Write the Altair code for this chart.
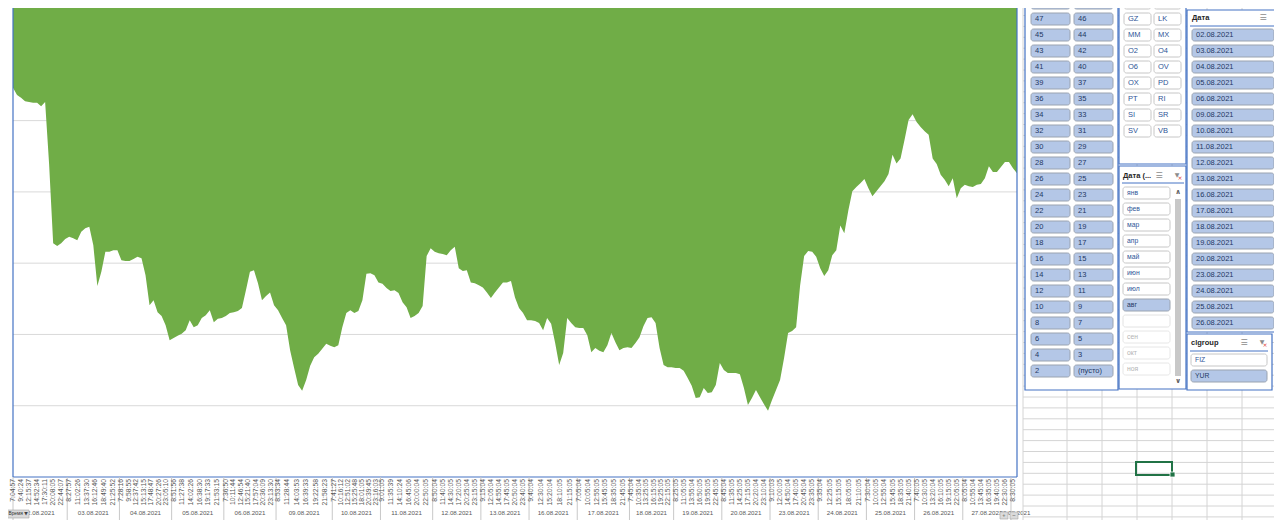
import altair as alt
import pandas as pd

FONT = "Liberation Sans"

# ---------------- data ----------------
day_labels = ["02.08.2021", "03.08.2021", "04.08.2021", "05.08.2021", "06.08.2021",
              "09.08.2021", "10.08.2021", "11.08.2021", "12.08.2021", "13.08.2021",
              "16.08.2021", "17.08.2021", "18.08.2021", "19.08.2021", "20.08.2021",
              "23.08.2021", "24.08.2021", "25.08.2021", "26.08.2021", "27.08.2021",
              "30.08.2021"]
day_points = [14, 13, 13, 13, 13, 14, 12, 13, 12, 12, 12, 13, 11, 12, 12, 12, 12, 12, 12, 12, 2]
time_labels = [
    ["7:04:57", "9:40:24", "12:15:37", "14:52:34", "17:30:11", "20:08:05", "22:44:07"],
    ["8:27:57", "11:02:26", "13:37:30", "16:12:46", "18:49:40", "21:25:52"],
    ["7:28:16", "9:58:55", "12:37:42", "15:13:15", "17:48:47", "20:27:26", "23:05:10"],
    ["8:51:56", "11:27:38", "14:02:26", "16:38:30", "19:17:33", "21:53:15"],
    ["7:36:50", "10:11:44", "12:46:54", "15:21:40", "17:57:04", "20:36:09", "23:13:30"],
    ["8:53:34", "11:28:44", "14:03:53", "16:39:33", "19:22:58", "21:58:23"],
    ["7:41:27", "10:16:12", "12:51:02", "15:25:48", "18:01:05", "20:39:45", "23:16:03"],
    ["9:01:05", "11:35:39", "14:10:24", "16:45:06", "20:00:04", "22:50:05"],
    ["8:50:04", "11:40:05", "14:30:05", "17:20:05", "20:25:04", "23:15:05"],
    ["9:15:04", "12:05:04", "14:55:04", "17:45:05", "20:50:04", "23:40:05"],
    ["9:40:04", "12:30:04", "15:20:04", "18:10:05", "21:15:05"],
    ["7:05:04", "10:05:04", "12:55:05", "15:45:05", "18:35:05", "21:45:05"],
    ["7:45:04", "10:35:04", "13:25:05", "16:15:05", "19:25:05", "22:15:05"],
    ["8:25:05", "11:05:05", "13:55:04", "16:50:05", "19:55:05", "22:45:05"],
    ["8:45:04", "11:35:05", "14:25:05", "17:15:05", "20:20:04", "23:10:04"],
    ["9:10:03", "12:00:05", "14:50:04", "17:40:05", "20:45:04", "23:35:05"],
    ["9:35:04", "12:25:05", "15:15:05", "18:05:05", "21:10:05"],
    ["7:30:04", "10:00:05", "12:55:04", "15:45:05", "18:35:05", "21:40:05"],
    ["7:40:05", "10:30:05", "13:20:04", "16:10:05", "19:15:05", "22:05:05"],
    ["8:05:04", "10:55:04", "13:45:04", "16:35:05", "19:40:05", "22:30:06"],
    ["8:30:05"],
]
values = [
    546, 536, 532, 527, 526, 525, 525, 520, 526, 438,
    328, 324, 328, 334, 337, 335, 332, 344, 349, 351,
    325, 268, 288, 316, 316, 318, 318, 304, 303, 303,
    306, 309, 307, 283, 241, 248, 231, 226, 213, 192,
    195, 198, 201, 206, 220, 210, 213, 223, 227, 234,
    217, 222, 223, 226, 230, 231, 233, 237, 262, 288,
    290, 272, 248, 254, 259, 241, 234, 223, 213, 178,
    153, 129, 121, 136, 156, 168, 173, 180, 187, 184,
    182, 185, 210, 230, 234, 230, 233, 248, 285, 286,
    283, 273, 271, 265, 261, 262, 258, 245, 238, 223,
    226, 230, 240, 310, 321, 316, 314, 313, 311, 318,
    323, 293, 289, 290, 273, 272, 269, 266, 259, 251,
    259, 266, 273, 273, 275, 252, 237, 230, 220, 220,
    219, 216, 206, 223, 215, 188, 157, 174, 223, 216,
    210, 209, 209, 199, 175, 181, 177, 175, 185, 202,
    189, 178, 181, 182, 181, 188, 196, 212, 223, 224,
    216, 181, 157, 154, 154, 153, 153, 149, 139, 128,
    111, 112, 125, 118, 119, 129, 160, 150, 146, 146,
    146, 144, 125, 101, 111, 122, 112, 102, 93, 108,
    122, 136, 167, 202, 205, 210, 269, 310, 317, 316,
    309, 293, 282, 290, 311, 318, 353, 342, 374, 401,
    407, 412, 418, 405, 394, 401, 408, 415, 425, 452,
    440, 447, 473, 501, 509, 498, 491, 485, 480, 447,
    439, 424, 417, 408, 419, 391, 405, 410, 408, 407,
    410, 411, 419, 436, 428, 428, 435, 442, 442, 433,
    426,
]
y_ticks = [100, 200, 300, 400, 500, 600]
y_top = 658

num_slicer = [["49", "48"], ["47", "46"], ["45", "44"], ["43", "42"], ["41", "40"],
              ["39", "37"], ["36", "35"], ["34", "33"], ["32", "31"], ["30", "29"],
              ["28", "27"], ["26", "25"], ["24", "23"], ["22", "21"], ["20", "19"],
              ["18", "17"], ["16", "15"], ["14", "13"], ["12", "11"], ["10", "9"],
              ["8", "7"], ["6", "5"], ["4", "3"], ["2", "(пусто)"]]
code_slicer = [["EU", "GD"], ["GZ", "LK"], ["MM", "MX"], ["O2", "O4"], ["O6", "OV"],
               ["OX", "PD"], ["PT", "RI"], ["SI", "SR"], ["SV", "VB"]]
month_items = ["янв", "фев", "мар", "апр", "май", "июн", "июл", "авг", "", "сен", "окт", "ноя"]
month_states = ["on", "on", "on", "on", "on", "on", "on", "sel", "blank", "off", "off", "off"]
date_items = ["02.08.2021", "03.08.2021", "04.08.2021", "05.08.2021", "06.08.2021",
              "09.08.2021", "10.08.2021", "11.08.2021", "12.08.2021", "13.08.2021",
              "16.08.2021", "17.08.2021", "18.08.2021", "19.08.2021", "20.08.2021",
              "23.08.2021", "24.08.2021", "25.08.2021", "26.08.2021"]
group_items = ["FIZ", "YUR"]
group_states = ["on", "sel"]
slicer_titles = ["Дата (...", "Дата", "clgroup"]
field_button = "Время"

# ---------------- layout / scales ----------------
W, H = 1266, 512
PLOT_L, PLOT_R, PLOT_B = 5, 1009, 469
X = alt.Scale(domain=[0, len(values) - 1], range=[PLOT_L, PLOT_R], nice=False, zero=False)
Y = alt.Scale(domain=[0, y_top], range=[PLOT_B, 0], nice=False, zero=False)
PX = alt.Scale(domain=[8, 8 + W], range=[0, W], nice=False, zero=False)
PY = alt.Scale(domain=[8, 8 + H], range=[0, H], nice=False, zero=False)

GREEN = "#70AD47"
BLUE = "#4472C4"

series = pd.DataFrame({"i": list(range(len(values))), "v": values})

starts = []
s = 0
for n in day_points:
    starts.append(s)
    s += n

tl_rows, dl_rows, sep_rows = [], [], []
for d, (lab, st, n, tls) in enumerate(zip(day_labels, starts, day_points, time_labels)):
    for j, t in enumerate(tls):
        tl_rows.append({"pos": st + j * n / len(tls), "t": t})
    dl_rows.append({"pos": st + (n - 1) / 2, "t": lab})
    sep_rows.append({"pos": max(st - 0.5, 0)})
tl_df = pd.DataFrame(tl_rows)
dl_df = pd.DataFrame(dl_rows)
sep_df = pd.DataFrame(sep_rows)

layers = []

# gridlines
layers.append(alt.Chart(pd.DataFrame({"t": y_ticks})).mark_rule(color="#D9D9D9", strokeWidth=1).encode(
    y=alt.Y("t:Q", scale=Y, axis=None), x=alt.value(PLOT_L), x2=alt.value(PLOT_R)))
# area filled from the series up to the top of the value axis
layers.append(alt.Chart(series).mark_area(color=GREEN, opacity=1).encode(
    x=alt.X("i:Q", scale=X, axis=None), y=alt.Y("v:Q", scale=Y, axis=None), y2=alt.datum(y_top)))
# plot border (left/right verticals and bottom)
layers.append(alt.Chart(pd.DataFrame({"i": [0, len(values) - 1]})).mark_rule(color=BLUE, strokeWidth=1.2).encode(
    x=alt.X("i:Q", scale=X, axis=None), y=alt.value(0), y2=alt.value(PLOT_B)))
layers.append(alt.Chart(pd.DataFrame({"v": [0]})).mark_rule(color=BLUE, strokeWidth=1.2).encode(
    y=alt.Y("v:Q", scale=Y, axis=None), x=alt.value(PLOT_L), x2=alt.value(PLOT_R)))
# day separators
layers.append(alt.Chart(sep_df).mark_rule(color="#C8C8C8", strokeWidth=1).encode(
    x=alt.X("pos:Q", scale=X, axis=None), y=alt.value(PLOT_B), y2=alt.value(H)))
# time labels
layers.append(alt.Chart(tl_df).mark_text(angle=270, align="right", baseline="middle", fontSize=6.8,
                                          font=FONT, color="#595959").encode(
    x=alt.X("pos:Q", scale=X, axis=None), y=alt.value(PLOT_B + 2), text="t:N"))
# date labels
layers.append(alt.Chart(dl_df).mark_text(align="center", baseline="middle", fontSize=6.2,
                                          font=FONT, color="#595959").encode(
    x=alt.X("pos:Q", scale=X, axis=None), y=alt.value(PLOT_B + 36), text="t:N"))

# ---------------- right side: excel grid + slicers ----------------
def rect_layer(df, **kw):
    enc = dict(x=alt.X("x0:Q", scale=PX, axis=None), x2="x1:Q",
               y=alt.Y("y0:Q", scale=PY, axis=None), y2="y1:Q")
    if "fill" in df.columns:
        enc["fill"] = alt.Fill("fill:N", scale=None)
    if "stroke" in df.columns:
        enc["stroke"] = alt.Stroke("stroke:N", scale=None)
    return alt.Chart(df).mark_rect(**kw).encode(**enc)


def rule_layer(df, **kw):
    return alt.Chart(df).mark_rule(**kw).encode(
        x=alt.X("x0:Q", scale=PX, axis=None), x2="x1:Q",
        y=alt.Y("y0:Q", scale=PY, axis=None), y2="y1:Q")


def text_layer(df, **kw):
    enc = dict(x=alt.X("tx:Q", scale=PX, axis=None), y=alt.Y("ty:Q", scale=PY, axis=None),
               text="label:N")
    if "tc" in df.columns:
        enc["color"] = alt.Color("tc:N", scale=None)
    return alt.Chart(df).mark_text(**kw).encode(**enc)


# excel cell grid
grid_cols = [1023, 1067, 1102, 1137, 1172, 1207, 1242, 1277]
grid_rows = [397 + 10.9 * k for k in range(-36, 12)]
g_rows = [{"x0": 1023, "x1": 1282, "y0": y, "y1": y} for y in grid_rows if 8 <= y <= 8 + H]
g_rows += [{"x0": x, "x1": x, "y0": 8, "y1": 8 + H} for x in grid_cols]
layers.append(rule_layer(pd.DataFrame(g_rows), color="#D4D4D4", strokeWidth=1))

# slicer panels
panels = pd.DataFrame([
    {"x0": 1025, "x1": 1118, "y0": -10, "y1": 390},
    {"x0": 1119, "x1": 1186, "y0": -10, "y1": 164},
    {"x0": 1119, "x1": 1186, "y0": 166, "y1": 389},
    {"x0": 1187, "x1": 1290, "y0": 10, "y1": 332},
    {"x0": 1187, "x1": 1272, "y0": 334, "y1": 390},
])
layers.append(rect_layer(panels, color="white", stroke=BLUE, strokeWidth=1.2))

STYLE = {
    "sel": ("#B4C7E7", "#9AA3B0", "#1F3864"),
    "on": ("#FFFFFF", "#C6C6C6", "#2F5597"),
    "blank": ("#FFFFFF", "#E2E2E2", "#FFFFFF"),
    "off": ("#FFFFFF", "#E6E6E6", "#B4B4B4"),
}
btns = []


def add_btn(x0, x1, yc, label, state, fs):
    f, st, tc = STYLE[state]
    btns.append({"x0": x0, "x1": x1, "y0": yc - 6, "y1": yc + 6, "tx": x0 + 4, "ty": yc,
                 "label": label, "fill": f, "stroke": st, "tc": tc, "fs": fs})


for k, row in enumerate(num_slicer):
    for c, lab in enumerate(row):
        x0, x1 = [(1031, 1070), (1074, 1113)][c]
        add_btn(x0, x1, 3 + 16 * k, lab, "sel", 7.5)
for k, row in enumerate(code_slicer):
    for c, lab in enumerate(row):
        x0, x1 = [(1124, 1151), (1154, 1181)][c]
        add_btn(x0, x1, 3 + 16 * k, lab, "on", 7.5)
for j, (m, stt) in enumerate(zip(month_items, month_states)):
    add_btn(1123, 1170, 193 + 16 * j, m, stt, 6.8)
for j, d in enumerate(date_items):
    add_btn(1192, 1274, 35 + 16 * j, d, "sel", 7.5)
for j, (g, stt) in enumerate(zip(group_items, group_states)):
    add_btn(1191, 1267, 360 + 16 * j, g, stt, 7.2)
bdf = pd.DataFrame(btns)
layers.append(rect_layer(bdf[["x0", "x1", "y0", "y1", "fill", "stroke"]], cornerRadius=2.5, strokeWidth=1))
layers.append(text_layer(bdf[bdf.fs == 7.5], align="left", baseline="middle", fontSize=7.5, font=FONT))
layers.append(text_layer(bdf[bdf.fs != 7.5], align="left", baseline="middle", fontSize=6.8, font=FONT))

# slicer headers
hdr = pd.DataFrame([
    {"tx": 1123, "ty": 176, "label": slicer_titles[0]},
    {"tx": 1192, "ty": 18, "label": slicer_titles[1]},
    {"tx": 1191, "ty": 343, "label": slicer_titles[2]},
])
layers.append(text_layer(hdr, align="left", baseline="middle", fontSize=7.5, fontWeight="bold",
                         font=FONT, color="#262626"))
ul = pd.DataFrame([
    {"x0": 1122, "x1": 1184, "y0": 183, "y1": 183},
    {"x0": 1190, "x1": 1282, "y0": 26, "y1": 26},
    {"x0": 1190, "x1": 1268, "y0": 351, "y1": 351},
])
layers.append(rule_layer(ul, color=BLUE, strokeWidth=1))
icons_ms = pd.DataFrame([{"tx": 1159, "ty": 176, "label": "☰"},
                         {"tx": 1263, "ty": 18, "label": "☰"},
                         {"tx": 1244, "ty": 343, "label": "☰"}])
layers.append(text_layer(icons_ms, align="center", baseline="middle", fontSize=8, font="DejaVu Sans",
                         color="#8C8C8C"))
icons_f = pd.DataFrame([{"tx": 1177, "ty": 175, "label": "▼"},
                        {"tx": 1262, "ty": 342, "label": "▼"}])
layers.append(text_layer(icons_f, align="center", baseline="middle", fontSize=6, font="DejaVu Sans",
                         color="#8C8C8C"))
icons_x = icons_f.assign(tx=icons_f.tx + 3, ty=icons_f.ty + 3, label="×")
layers.append(text_layer(icons_x, align="center", baseline="middle", fontSize=6, font="DejaVu Sans",
                         color="#E03C31"))

# scrollbars
thumbs = pd.DataFrame([{"x0": 1175, "x1": 1181, "y0": 199, "y1": 376}])
layers.append(rect_layer(thumbs, color="#C8C8C8"))
arrows = pd.DataFrame([{"tx": 1178, "ty": 192, "label": "∧"}, {"tx": 1178, "ty": 381, "label": "∨"}])
layers.append(text_layer(arrows, align="center", baseline="middle", fontSize=7, fontWeight="bold",
                         font="DejaVu Sans", color="#606060"))

# active cell
layers.append(rect_layer(pd.DataFrame([{"x0": 1136, "x1": 1172, "y0": 462, "y1": 475}]),
                         fill="transparent", stroke="#217346", strokeWidth=2))
layers.append(rect_layer(pd.DataFrame([{"x0": 1170, "x1": 1175, "y0": 472, "y1": 477}]),
                         color="#217346", stroke="white", strokeWidth=0.8))

# field button and zoom buttons at the bottom of the chart
fb = pd.DataFrame([{"x0": 6, "x1": 29, "y0": 510, "y1": 518},
                   {"x0": 1000, "x1": 1008, "y0": 512, "y1": 519},
                   {"x0": 1010, "x1": 1018, "y0": 512, "y1": 519}])
layers.append(rect_layer(fb, color="#DADADA", stroke="#A6A6A6", strokeWidth=0.6))
fbt = pd.DataFrame([{"tx": 8.5, "ty": 514, "label": field_button}])
layers.append(text_layer(fbt, align="left", baseline="middle", fontSize=4.8, font=FONT, color="#303030"))
fbs = pd.DataFrame([{"tx": 26, "ty": 514, "label": "▼"},
                    {"tx": 1004, "ty": 515.5, "label": "+"}, {"tx": 1014, "ty": 515.5, "label": "−"}])
layers.append(text_layer(fbs, align="center", baseline="middle", fontSize=4.5, font="DejaVu Sans",
                         color="#404040"))

chart = alt.layer(*layers).resolve_scale(x="independent", y="independent").properties(
    width=W, height=H, padding=0, autosize=alt.AutoSizeParams(type="none")
).configure_view(stroke=None)

chart.save("out.html", embed_options={"renderer": "svg", "actions": False})
